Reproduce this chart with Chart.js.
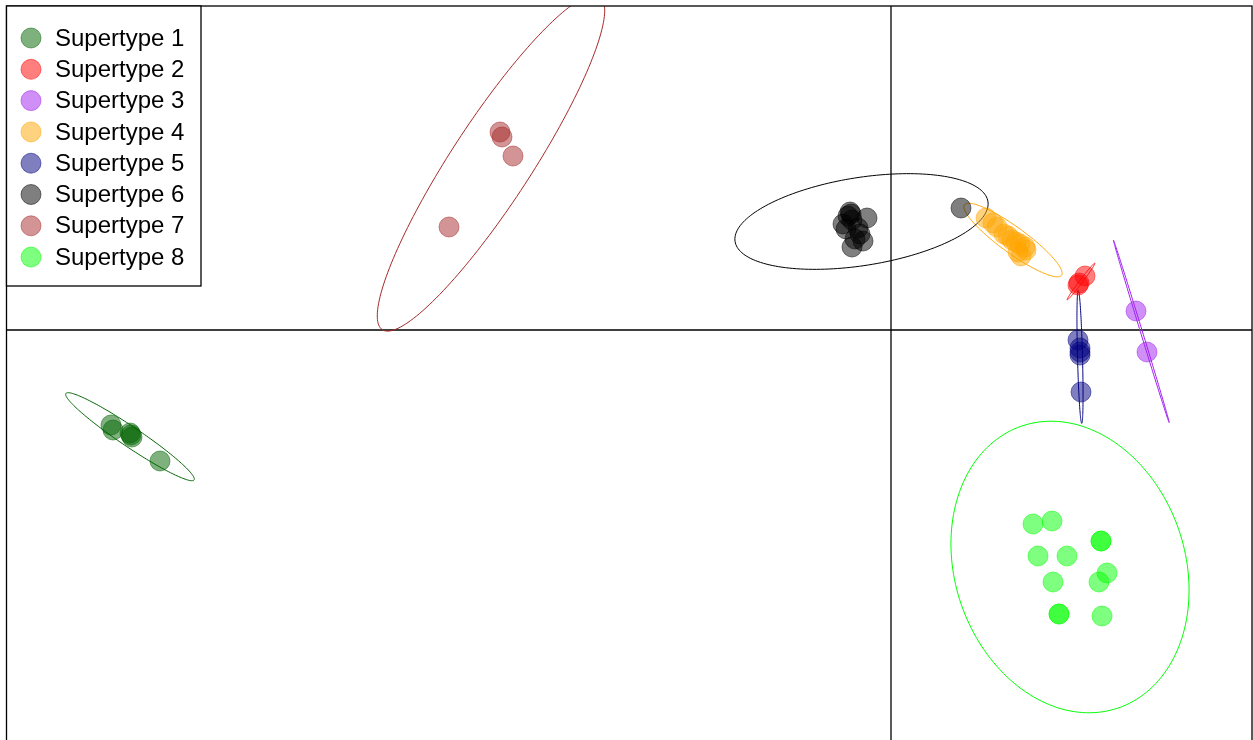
<!DOCTYPE html>
<html>
<head>
<meta charset="utf-8">
<script src="https://cdn.jsdelivr.net/npm/chart.js@4"></script>
<style>
    html, body { margin: 0; padding: 0; overflow: hidden; background: #fff; }
    #wrap { width: 1253px; height: 740px; overflow: hidden; }
</style>
</head>
<body>
<div id="wrap"><canvas id="ord-chart" width="1253" height="760"></canvas></div>
<script>
// Tên nhóm
const labels = ['Supertype 1', 'Supertype 2', 'Supertype 3', 'Supertype 4',
    'Supertype 5', 'Supertype 6', 'Supertype 7', 'Supertype 8'];

// Toạ độ điểm (trục 1, trục 2)
const st1X = [-7.80, -7.78, -7.61, -7.59, -7.60, -7.31];
const st1Y = [-0.95, -1.00, -1.03, -1.07, -1.05, -1.31];
const st2X = [1.94, 1.88, 1.87];
const st2Y = [0.54, 0.47, 0.45];
const st3X = [2.45, 2.56];
const st3Y = [0.19, -0.22];
const st4X = [0.95, 1.02, 1.06, 1.13, 1.17, 1.21, 1.25, 1.29, 1.34, 1.35, 1.30, 1.27];
const st4Y = [1.12, 1.07, 1.03, 0.96, 0.94, 0.90, 0.88, 0.86, 0.83, 0.80, 0.74, 0.78];
const st5X = [1.87, 1.89, 1.89, 1.89, 1.90];
const st5Y = [-0.10, -0.18, -0.22, -0.25, -0.62];
const st6X = [-0.41, -0.40, -0.43, -0.39, -0.24, -0.48, -0.45, -0.33, -0.31, -0.36, -0.28, -0.39, 0.70];
const st6Y = [1.18, 1.16, 1.14, 1.10, 1.12, 1.06, 1.01, 1.02, 0.96, 0.91, 0.89, 0.83, 1.22];
const st7X = [-3.91, -3.89, -3.78, -4.42];
const st7Y = [1.98, 1.93, 1.74, 1.03];
const st8X = [1.42, 1.61, 2.10, 2.10, 1.47, 1.76, 1.62, 2.16, 2.08, 1.68, 1.68, 2.11];
const st8Y = [-1.94, -1.91, -2.11, -2.11, -2.26, -2.26, -2.52, -2.43, -2.52, -2.84, -2.84, -2.86];

// Ellipse mỗi nhóm: tâm, bán trục lớn, bán trục nhỏ, góc (độ)
const ellCx = [-7.61, 1.90, 2.503, 1.22, 1.89, -0.295, -4.00, 1.79];
const ellCy = [-1.067, 0.485, -0.013, 0.90, -0.267, 1.085, 1.67, -2.37];
const ellA = [0.773, 0.23, 0.955, 0.60, 0.667, 1.28, 1.99, 1.49];
const ellB = [0.10, 0.015, 0.01, 0.13, 0.025, 0.44, 0.40, 1.15];
const ellAngle = [-34, 52.9, -73, -36, -88.5, 9, 56.9, -71];

const colors = ['0,100,0', '255,0,0', '160,32,240', '255,165,0',
    '0,0,128', '0,0,0', '165,42,42', '0,255,0'];

const xs = [st1X, st2X, st3X, st4X, st5X, st6X, st7X, st8X];
const ys = [st1Y, st2Y, st3Y, st4Y, st5Y, st6Y, st7Y, st8Y];

const datasets = labels.map((lab, i) => ({
    label: lab,
    data: xs[i].map((x, k) => ({ x: x, y: ys[i][k] })),
    backgroundColor: 'rgba(' + colors[i] + ',0.5)',
    borderColor: 'rgba(' + colors[i] + ',0.5)',
    borderWidth: 1,
    pointRadius: 10,
    pointHoverRadius: 10
}));

// Vẽ khung, trục 0 và các ellipse
const framePlugin = {
    id: 'frame',
    beforeDatasetsDraw(chart) {
        const ctx = chart.ctx;
        const a = chart.chartArea;
        const sx = chart.scales.x, sy = chart.scales.y;
        ctx.save();
        ctx.beginPath();
        ctx.rect(a.left, a.top, a.right - a.left, a.bottom - a.top);
        ctx.clip();

        // đường x = 0, y = 0
        ctx.strokeStyle = '#000';
        ctx.lineWidth = 1.3;
        const x0 = sx.getPixelForValue(0);
        const y0 = sy.getPixelForValue(0);
        ctx.beginPath();
        ctx.moveTo(x0, a.top); ctx.lineTo(x0, a.bottom);
        ctx.moveTo(a.left, y0); ctx.lineTo(a.right, y0);
        ctx.stroke();

        ctx.lineWidth = 1;
        for (let i = 0; i < ellCx.length; i++) {
            const th = ellAngle[i] * Math.PI / 180;
            ctx.strokeStyle = 'rgb(' + colors[i] + ')';
            ctx.beginPath();
            for (let s = 0; s <= 180; s++) {
                const t = s / 180 * 2 * Math.PI;
                const u = ellA[i] * Math.cos(t), v = ellB[i] * Math.sin(t);
                const dx = ellCx[i] + u * Math.cos(th) - v * Math.sin(th);
                const dy = ellCy[i] + u * Math.sin(th) + v * Math.cos(th);
                const px = sx.getPixelForValue(dx), py = sy.getPixelForValue(dy);
                if (s === 0) ctx.moveTo(px, py); else ctx.lineTo(px, py);
            }
            ctx.closePath();
            ctx.stroke();
        }
        ctx.restore();
    },
    afterDraw(chart) {
        const ctx = chart.ctx;
        const a = chart.chartArea;
        ctx.save();
        ctx.strokeStyle = '#000';
        ctx.lineWidth = 1.3;
        ctx.strokeRect(a.left, a.top, a.right - a.left, a.bottom - a.top);

        // chú thích
        ctx.fillStyle = '#fff';
        ctx.fillRect(a.left, a.top, 201 - a.left, 286 - a.top);
        ctx.strokeRect(a.left, a.top, 201 - a.left, 286 - a.top);
        ctx.font = '24px "Liberation Sans", Arial, sans-serif';
        ctx.textBaseline = 'middle';
        labels.forEach((lab, i) => {
            const cy = 38 + i * 31.3;
            ctx.beginPath();
            ctx.arc(31, cy, 10, 0, 2 * Math.PI);
            ctx.fillStyle = 'rgba(' + colors[i] + ',0.5)';
            ctx.fill();
            ctx.strokeStyle = 'rgba(' + colors[i] + ',0.5)';
            ctx.lineWidth = 1;
            ctx.stroke();
            ctx.fillStyle = '#000';
            ctx.fillText(lab, 55, cy + 1);
        });
        ctx.restore();
    }
};

const ctx = document.getElementById('ord-chart').getContext('2d');
const ordChart = new Chart(ctx, {
    type: 'scatter',
    data: { datasets: datasets },
    options: {
        responsive: false,
        animation: false,
        layout: {
            autoPadding: false,
            padding: { left: 6.5, top: 6, right: 1, bottom: 5 }
        },
        plugins: {
            legend: { display: false },
            tooltip: { enabled: false }
        },
        scales: {
            x: { type: 'linear', min: -8.845, max: 3.61, display: false },
            y: { type: 'linear', min: -4.25, max: 3.24, display: false }
        }
    },
    plugins: [framePlugin]
});
</script>
</body>
</html>
